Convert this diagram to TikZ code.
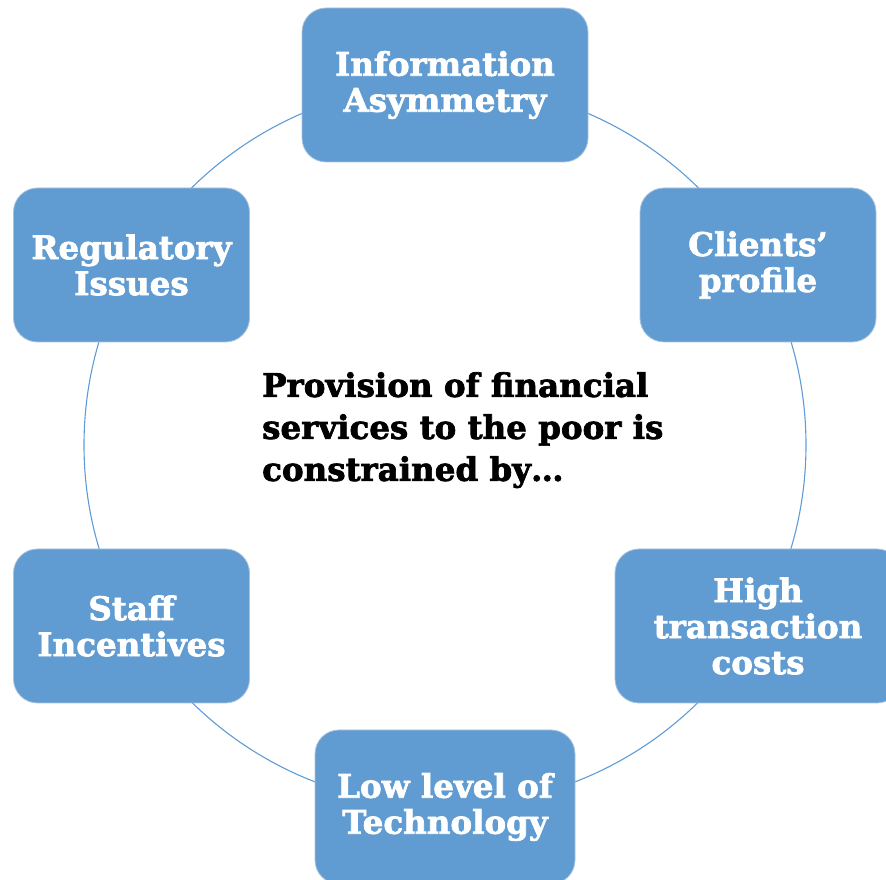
\documentclass[tikz,border=0pt]{standalone}
\usepackage{fontspec}
\setmainfont{DejaVu Serif}[BoldFeatures={FakeBold=2.2}]
\definecolor{boxblue}{RGB}{96,156,209}
\definecolor{boxedge}{RGB}{170,195,222}
\definecolor{ringblue}{RGB}{95,155,212}

\begin{document}
\begin{tikzpicture}[x=1pt,y=1pt,
  factor/.style={draw=boxedge,line width=0.8pt,fill=boxblue,rounded corners=24pt,minimum height=154pt,inner sep=0pt,align=center,text=white,font=\fontsize{32.5}{36}\selectfont\bfseries},
  hub/.style={align=left,inner sep=0pt,font=\fontsize{32.5}{42}\selectfont\bfseries}]
\useasboundingbox (0,0) rectangle (886,880);
\clip (0,0) rectangle (886,880);
% ring behind the boxes
\draw[ringblue,line width=1.1pt] (445,435) circle (361);
\node[factor,minimum width=286pt] (info) at (445,795) {Information\\Asymmetry};
\node[factor,minimum width=236pt] (clients) at (758,615) {Clients'\\profile};
\node[factor,minimum width=286pt] (costs) at (758,254) {High\\transaction\\costs};
\node[factor,minimum width=260pt] (tech) at (445,73) {Low level of\\Technology};
\node[factor,minimum width=236pt] (staff) at (131.5,254) {Staff\\Incentives};
\node[factor,minimum width=236pt] (reg) at (131.5,615) {Regulatory\\Issues};
\node[hub,anchor=north west] (center) at (262,508) {Provision of financial\\services to the poor is\\constrained by\ldots};
\end{tikzpicture}
\end{document}
